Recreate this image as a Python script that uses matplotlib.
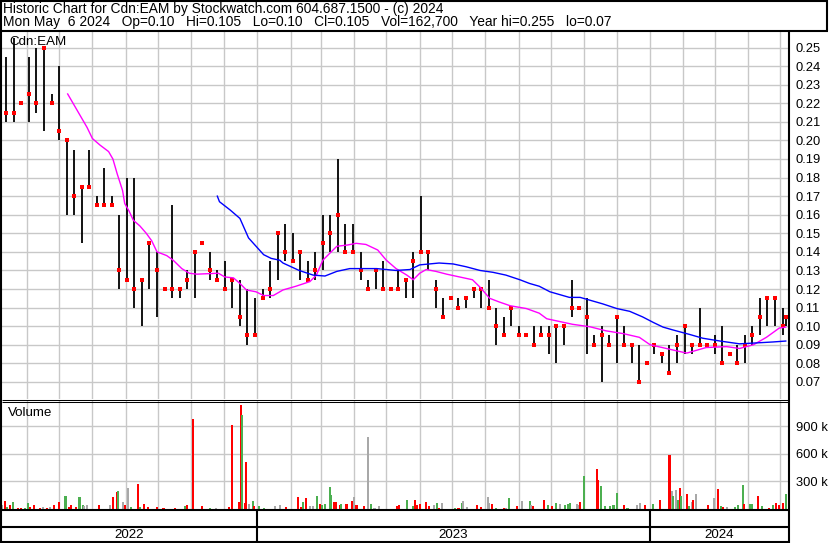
import matplotlib
matplotlib.use("Agg")
import matplotlib.pyplot as plt
import numpy as np
import pandas as pd
from matplotlib.lines import Line2D

W, H = 830, 543
BASE = pd.Timestamp("2022-05-09")
END_DAY = 731

# weekly bars (Friday of each week, last one is Mon May 6 2024)
bar_dates = list(pd.date_range("2022-05-13", periods=104, freq="7D")) + [pd.Timestamp("2024-05-06")]
bar_high = [
    .245, .255, .22, .245, .25, .25, .225, .24, .20, .195,
    .175, .195, .17, .185, .17, .16, .18, .18, .125, .145,
    .14, .12, .165, .12, .13, .14, .145, .14, .13, .135,
    .125, .125, .12, .115, .12, .135, .15, .155, .15, .14,
    .135, .14, .16, .16, .19, .155, .155, .14, .125, .13,
    .135, .12, .13, .125, .14, .17, .14, .125, .115, .115,
    .115, .115, .12, .12, .125, .11, .105, .11, .10, .095,
    .10, .10, .10, .10, .10, .125, .11, .115, .095, .10,
    .095, .105, .10, .09, .09, .08, .09, .085, .09, .095,
    .10, .09, .11, .09, .095, .10, .085, .09, .095, .10,
    .115, .115, .115, .11, .105,
]
bar_low = [
    .21, .21, .22, .21, .215, .205, .22, .20, .16, .16,
    .145, .175, .165, .165, .165, .12, .125, .11, .10, .12,
    .105, .12, .115, .115, .12, .115, .145, .125, .125, .12,
    .11, .10, .09, .095, .115, .115, .125, .135, .135, .125,
    .125, .125, .13, .14, .14, .14, .14, .125, .12, .12,
    .12, .12, .12, .115, .115, .14, .13, .11, .105, .115,
    .11, .11, .115, .11, .11, .09, .095, .10, .095, .095,
    .09, .095, .085, .08, .09, .105, .11, .085, .09, .07,
    .09, .08, .09, .08, .07, .08, .085, .08, .075, .08,
    .085, .085, .09, .09, .085, .08, .085, .08, .08, .09,
    .095, .10, .10, .095, .10,
]
bar_close = [
    .215, .215, .22, .225, .22, .25, .22, .205, .20, .17,
    .175, .175, .165, .165, .165, .13, .125, .12, .125, .145,
    .13, .12, .12, .12, .125, .14, .145, .13, .125, .12,
    .125, .105, .095, .095, .115, .12, .15, .14, .135, .14,
    .125, .13, .145, .15, .16, .14, .14, .13, .12, .13,
    .12, .12, .12, .125, .135, .14, .14, .12, .105, .115,
    .11, .115, .12, .12, .11, .10, .095, .11, .095, .095,
    .09, .095, .095, .10, .10, .11, .11, .105, .09, .095,
    .09, .105, .09, .09, .07, .08, .09, .085, .075, .09,
    .10, .09, .09, .09, .09, .08, .085, .08, .09, .095,
    .105, .115, .115, .10, .105,
]

# moving averages (magenta = short, blue = long)
ma_fast_dates = [
    "2022-07-09", "2022-07-13", "2022-07-19", "2022-07-27", "2022-08-01", "2022-08-08",
    "2022-08-16", "2022-08-20", "2022-08-24", "2022-08-29", "2022-08-31", "2022-09-04",
    "2022-09-08", "2022-09-14", "2022-09-20", "2022-09-25", "2022-09-30", "2022-10-09",
    "2022-10-15", "2022-10-23", "2022-10-30", "2022-11-06", "2022-11-26", "2022-12-02",
    "2022-12-10", "2022-12-16", "2022-12-22", "2022-12-31", "2023-01-07", "2023-01-16",
    "2023-01-25", "2023-02-06", "2023-02-19", "2023-02-25", "2023-03-03", "2023-03-09",
    "2023-03-16", "2023-03-26", "2023-04-03", "2023-04-12", "2023-04-23", "2023-05-01",
    "2023-05-10", "2023-05-20", "2023-05-26", "2023-06-01", "2023-06-07", "2023-06-16",
    "2023-06-26", "2023-07-08", "2023-07-20", "2023-07-27", "2023-08-05", "2023-08-14",
    "2023-08-24", "2023-09-08", "2023-09-20", "2023-09-27", "2023-10-09", "2023-10-21",
    "2023-11-06", "2023-11-21", "2023-12-07", "2023-12-22", "2024-01-01", "2024-01-16",
    "2024-02-04", "2024-02-22", "2024-03-12", "2024-03-24", "2024-04-06", "2024-04-18",
    "2024-04-30", "2024-05-06",
]
ma_fast = [
    .225, .221, .215, .207, .201, .1975,
    .194, .190, .182, .173, .166, .162,
    .157, .154, .150, .146, .140, .138,
    .1355, .131, .1285, .128, .1285, .1265,
    .126, .123, .1195, .1185, .1165, .1165,
    .1195, .1215, .124, .1275, .1355, .139,
    .143, .1437, .1446, .144, .141, .1355,
    .131, .1275, .125, .1285, .1305, .1295,
    .128, .1265, .125, .121, .115, .113,
    .111, .1095, .107, .104, .1025, .101,
    .0997, .0975, .096, .094, .090, .088,
    .0855, .0885, .089, .088, .090, .094,
    .099, .0995,
]
ma_slow_dates = [
    "2022-11-25", "2022-11-27", "2022-12-07", "2022-12-16", "2022-12-24", "2022-12-31",
    "2023-01-07", "2023-01-14", "2023-01-22", "2023-01-25", "2023-02-09", "2023-02-22",
    "2023-03-05", "2023-03-16", "2023-03-28", "2023-04-22", "2023-05-10", "2023-05-23",
    "2023-06-01", "2023-06-10", "2023-06-19", "2023-07-02", "2023-07-14", "2023-07-27",
    "2023-08-08", "2023-08-20", "2023-09-02", "2023-09-11", "2023-09-20", "2023-09-30",
    "2023-10-18", "2023-10-28", "2023-11-06", "2023-11-18", "2023-12-01", "2023-12-13",
    "2023-12-25", "2024-01-04", "2024-01-13", "2024-01-22", "2024-02-07", "2024-02-19",
    "2024-03-06", "2024-03-24", "2024-04-09", "2024-04-24", "2024-05-06",
]
ma_slow = [
    .170, .167, .1625, .158, .1475, .143,
    .1385, .1365, .1355, .134, .130, .1275,
    .127, .1295, .131, .131, .130, .1305,
    .133, .1335, .134, .1335, .132, .130,
    .129, .1275, .125, .123, .1215, .1185,
    .1155, .1155, .114, .112, .1095, .108,
    .105, .102, .0995, .098, .0955, .0935,
    .092, .0905, .091, .0915, .092,
]

# daily volume (days after 2022-05-09, thousands of shares, r=down g=up n=unchanged)
vol_day = [
    0, 3, 5, 7, 10, 15, 18, 21, 24, 26, 30, 35, 38, 42, 45, 48, 53, 59, 62, 64,
    69, 72, 75, 76, 79, 90, 100, 103, 107, 108, 112, 114, 117, 120, 126, 128, 132, 136, 144, 150,
    161, 170, 172, 177, 186, 193, 199, 211, 214, 220, 222, 223, 226, 227, 229, 233, 234, 239, 243, 254,
    258, 264, 275, 278, 280, 282, 286, 289, 293, 295, 297, 300, 305, 306, 308, 310, 314, 315, 320, 325,
    327, 329, 330, 336, 340, 343, 346, 350, 367, 369, 376, 382, 384, 385, 388, 394, 397, 401, 404, 406,
    409, 421, 424, 427, 428, 432, 441, 445, 451, 452, 455, 459, 466, 468, 471, 478, 483, 490, 491, 493,
    503, 507, 511, 515, 518, 523, 526, 528, 534, 536, 537, 541, 553, 554, 556, 560, 565, 568, 571, 578,
    581, 590, 593, 597, 605, 611, 620, 622, 623, 626, 628, 630, 631, 636, 638, 641, 642, 645, 656, 661,
    665, 668, 670, 673, 681, 684, 688, 689, 695, 697, 702, 706, 712, 716, 719, 722, 725, 728,
]
vol_k = [
    39, 92, 21, 46, 74, 10, 10, 10, 64, 21, 39, 10, 21, 10, 21, 39, 74, 145, 21, 39,
    21, 134, 39, 28, 39, 39, 39, 134, 180, 198, 81, 39, 233, 21, 268, 21, 56, 21, 21, 10,
    10, 28, 39, 985, 28, 14, 14, 21, 913, 74, 1130, 1020, 67, 513, 56, 92, 28, 28, 10, 28,
    46, 21, 134, 21, 74, 116, 28, 28, 145, 53, 46, 53, 240, 155, 81, 81, 39, 53, 56, 92,
    127, 39, 39, 28, 785, 56, 14, 28, 28, 39, 102, 28, 102, 39, 56, 81, 28, 39, 67, 14,
    67, 14, 14, 64, 92, 21, 39, 21, 134, 67, 56, 14, 14, 14, 124, 28, 88, 88, 46, 28,
    99, 46, 28, 67, 56, 39, 56, 67, 56, 46, 81, 356, 432, 313, 251, 28, 28, 46, 178, 39,
    14, 46, 67, 46, 53, 102, 592, 192, 145, 207, 102, 232, 145, 167, 28, 81, 102, 160, 46, 124,
    221, 28, 21, 21, 21, 46, 266, 56, 56, 56, 138, 28, 14, 46, 67, 46, 67, 163,
]
vol_dir = list(
    "nrgrgrrggrrrnrnrrgrr"
    "rggnnrnrrgnrngrgrrrr"
    "rgrrrgnrrrrgrrngrggn"
    "nrrrgrnngrggggrrrgrr"
    "nrrrngnnrrggrrrrrngr"
    "ngrgnnrrnnrgrngrngnr"
    "rgrgngggnnrgrrgggggr"
    "gnnrgrrngngrgrgnrnrn"
    "rgrngggrggrgrgrrrg"
)

GRID = "#c8c8c8"
VOL_COLORS = {"r": "#ff0000", "g": "#4caf50", "n": "#a8a8a8"}
FS = 9.6
HEAD_FS = 9.9

plt.rcParams["font.family"] = ["Liberation Sans", "DejaVu Sans"]


def fx(px):
    return px / W


def fy(py):
    return 1 - py / H


def days(values):
    return np.asarray((pd.to_datetime(values) - BASE).days)


fig = plt.figure(figsize=(W / 100, H / 100), dpi=100)
fig.patch.set_facecolor("white")

ax = fig.add_axes([fx(2), fy(399), fx(789) - fx(2), fy(31) - fy(399)])
axv = fig.add_axes([fx(2), fy(509), fx(789) - fx(2), fy(401) - fy(509)])
axd = fig.add_axes([fx(2), fy(541), fx(789) - fx(2), fy(509) - fy(541)])

month_x = days(pd.date_range("2022-06-01", "2024-05-01", freq="MS"))
year_x = days(["2023-01-01", "2024-01-01"])

for a in (ax, axv, axd):
    a.set_xlim(0, END_DAY)
    a.set_xticks([])
    for s in a.spines.values():
        s.set_visible(False)

# price panel
ax.set_ylim(0.0608, 0.2589)
for m in month_x:
    ax.axvline(m, color=GRID, lw=1, zorder=0)
price_ticks = np.round(np.arange(0.07, 0.255, 0.01), 2)
ax.set_yticks(price_ticks)
ax.set_yticklabels([f"{v:.2f}" for v in price_ticks])
ax.yaxis.tick_right()
ax.tick_params(axis="y", length=0, pad=5, labelsize=9.3)
ax.grid(axis="y", color=GRID, lw=1, zorder=0)
ax.set_axisbelow(True)

bx = days(bar_dates)
ax.vlines(bx, bar_low, bar_high, color="black", lw=1.3, zorder=3)
ax.plot(bx, bar_close, "s", color="#ff0000", ms=2.2, mew=0, zorder=4)
ax.plot(days(ma_fast_dates), ma_fast, color="#ff00ff", lw=1, zorder=5)
ax.plot(days(ma_slow_dates), ma_slow, color="#0000ff", lw=1, zorder=5)

# volume panel
axv.set_ylim(0, 1178000)
for m in month_x:
    axv.axvline(m, color=GRID, lw=1, zorder=0)
vol_ticks = [300000, 600000, 900000]
axv.set_yticks(vol_ticks)
axv.set_yticklabels(["300 k", "600 k", "900 k"])
axv.yaxis.tick_right()
axv.tick_params(axis="y", length=0, pad=5, labelsize=9.3)
axv.grid(axis="y", color=GRID, lw=1, zorder=0)
axv.set_axisbelow(True)
axv.bar(np.array(vol_day), np.array(vol_k) * 1000, width=1.9, linewidth=0,
        color=[VOL_COLORS[c] for c in vol_dir], zorder=3)

# date strip
axd.set_ylim(0, 1)
axd.set_yticks([])
for yx in year_x:
    axd.axvline(yx, color="black", lw=1.5)
year_edges = [0, *year_x, END_DAY]
for label, left, right in zip(["2022", "2023", "2024"], year_edges[:-1], year_edges[1:]):
    axd.text((left + right) / 2, 0.2, label, ha="center", va="center", fontsize=FS)


def line(x0, y0, x1, y1, lw):
    fig.add_artist(Line2D([fx(x0), fx(x1)], [fy(y0), fy(y1)], color="black", lw=lw,
                          transform=fig.transFigure, solid_capstyle="butt"))


line(1, 0, 1, 543, 1.5)
line(0, 1, 828, 1, 1.5)
line(827, 0, 827, 31, 1.5)
line(0, 30.5, 828, 30.5, 1.5)
line(789, 30, 789, 543, 1.5)
line(2, 399.5, 789, 399.5, 0.75)
line(2, 401.5, 789, 401.5, 0.75)
line(2, 509.5, 789, 509.5, 1.5)
line(2, 527, 789, 527, 1.5)
line(0, 541.8, 789, 541.8, 1.5)

fig.text(fx(3), fy(9), "Historic Chart for Cdn:EAM by Stockwatch.com 604.687.1500 - (c) 2024",
         ha="left", va="center", fontsize=HEAD_FS)
fig.text(fx(3), fy(22),
         "Mon May  6 2024   Op=0.10   Hi=0.105   Lo=0.10   Cl=0.105   Vol=162,700   Year hi=0.255   lo=0.07",
         ha="left", va="center", fontsize=HEAD_FS)
fig.text(fx(9), fy(42), "Cdn:EAM", ha="left", va="center", fontsize=FS)
fig.text(fx(8), fy(413), "Volume", ha="left", va="center", fontsize=FS)

fig.savefig("out.png", dpi=100)
